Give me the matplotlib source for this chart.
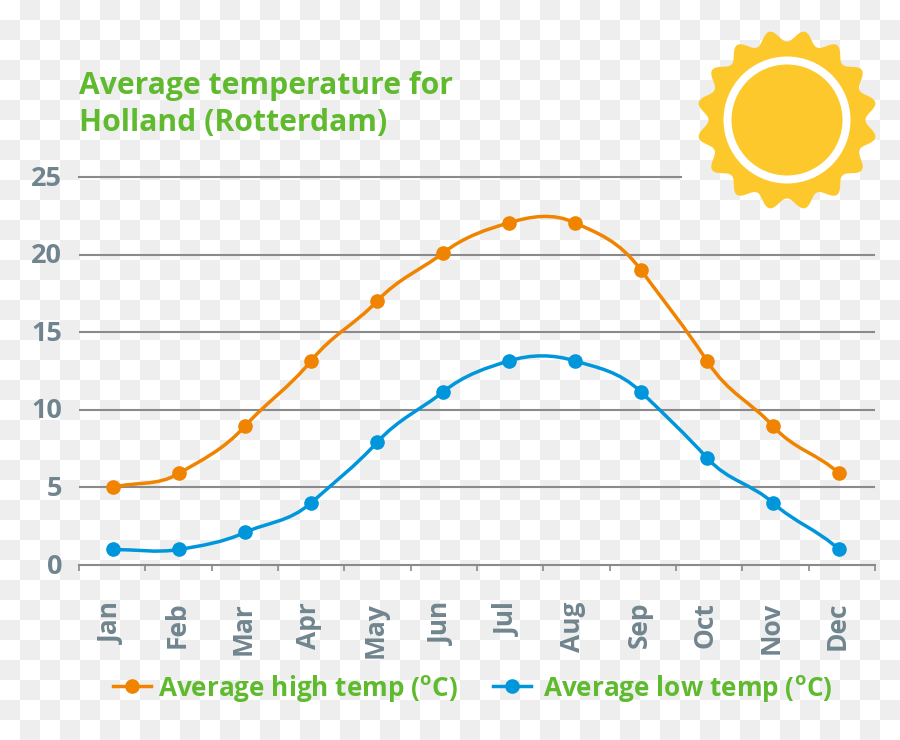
import numpy as np
import matplotlib
matplotlib.use("Agg")
import matplotlib.pyplot as plt
from matplotlib.lines import Line2D
from matplotlib.patches import Circle, PathPatch, Polygon
from matplotlib.path import Path
from matplotlib.transforms import ScaledTranslation, blended_transform_factory

months = ["Jan", "Feb", "Mar", "Apr", "May", "Jun", "Jul", "Aug", "Sep", "Oct", "Nov", "Dec"]
high_temp = [5.0, 5.9, 8.95, 13.15, 17.0, 20.1, 22.05, 22.05, 19.0, 13.15, 8.95, 5.9]
low_temp = [1.0, 1.0, 2.1, 4.0, 7.9, 11.15, 13.15, 13.15, 11.15, 6.9, 4.0, 1.0]
y_ticks = [0, 5, 10, 15, 20, 25]

title = "Average temperature for\nHolland (Rotterdam)"
high_label = "Average high temp ($^{\\mathrm{o}}$C)"
low_label = "Average low temp ($^{\\mathrm{o}}$C)"

GREEN = "#5fba2e"
GREY_TEXT = "#71858f"
GRID = "#8a8a8a"
ORANGE = "#f08400"
BLUE = "#0096dc"
SUN = "#fdc82c"

plt.rcParams["font.family"] = ["Open Sans", "DejaVu Sans"]
plt.rcParams["mathtext.fontset"] = "custom"
plt.rcParams["mathtext.rm"] = "Open Sans:bold"


def smooth_path(xs, ys, strength=1.3):
    # bezier through the points, same idea as a spreadsheet "smoothed line"
    verts = [(xs[0], ys[0])]
    codes = [Path.MOVETO]
    n = len(xs)
    for i in range(n - 1):
        prev_i = max(i - 1, 0)
        next_i = min(i + 2, n - 1)
        m0 = strength * (ys[i + 1] - ys[prev_i]) / (i + 1 - prev_i)
        m1 = strength * (ys[next_i] - ys[i]) / (next_i - i)
        verts.append((xs[i] + 1 / 3, ys[i] + m0 / 3))
        verts.append((xs[i + 1] - 1 / 3, ys[i + 1] - m1 / 3))
        verts.append((xs[i + 1], ys[i + 1]))
        codes += [Path.CURVE4] * 3
    return Path(verts, codes)


fig = plt.figure(figsize=(9, 7.4), dpi=100)

# checkerboard backdrop and the sun, in pixel coordinates
bg = fig.add_axes([0, 0, 1, 1], zorder=0)
bg.set_xlim(0, 900)
bg.set_ylim(740, 0)
bg.axis("off")
rows, cols = np.indices((37, 45))
bg.imshow((rows + cols) % 2, cmap=matplotlib.colors.ListedColormap(["#ffffff", "#eeeeee"]),
          extent=(0, 900, 740, 0), interpolation="nearest", aspect="auto")

theta = np.linspace(0, 2 * np.pi, 720, endpoint=False)
radius = 78.5 + 11.5 * (0.5 - 0.5 * np.cos(16 * theta)) ** 1.1
bg.add_patch(Polygon(np.c_[787 + radius * np.cos(theta), 120 + radius * np.sin(theta)],
                     closed=True, facecolor=SUN, edgecolor="none"))
bg.add_patch(Circle((787, 120), 63.5, facecolor="white", edgecolor="none"))
bg.add_patch(Circle((787, 120), 55.5, facecolor=SUN, edgecolor="none"))

# chart area runs from px 79..875 and 177..565
ax = fig.add_axes([79 / 900, 1 - 565 / 740, (875 - 79) / 900, (565 - 177) / 740], zorder=1)
ax.patch.set_alpha(0)

x = np.arange(len(months))
ax.set_xlim(-34 / 66, 11 + 36 / 66)
ax.set_ylim(0, 25)

for v in y_ticks[1:-1]:
    ax.axhline(v, color=GRID, lw=1.5, zorder=1)
# the top line stops short of the sun
ax.plot([0, (681 - 79) / (875 - 79)], [y_ticks[-1], y_ticks[-1]],
        transform=blended_transform_factory(ax.transAxes, ax.transData),
        color=GRID, lw=1.5, clip_on=False, zorder=1)

ax.add_patch(PathPatch(smooth_path(x, high_temp), fill=False, edgecolor=ORANGE, lw=2.5, zorder=3))
ax.add_patch(PathPatch(smooth_path(x, low_temp), fill=False, edgecolor=BLUE, lw=2.5, zorder=3))
ax.plot(x, high_temp, ls="none", marker="o", ms=9.5, color=ORANGE, zorder=4, clip_on=False)
ax.plot(x, low_temp, ls="none", marker="o", ms=9.5, color=BLUE, zorder=4, clip_on=False)

for side in ["top", "right", "left"]:
    ax.spines[side].set_visible(False)
ax.spines["bottom"].set_color(GRID)
ax.spines["bottom"].set_linewidth(1.5)

ax.set_yticks(y_ticks)
ax.tick_params(axis="y", length=0, pad=12, labelsize=19.5, labelcolor=GREY_TEXT)
ax.set_xticks(x)
ax.set_xticklabels(months, rotation=90, ha="center", va="top")
ax.tick_params(axis="x", which="major", length=0, pad=26.5, labelsize=19, labelcolor=GREY_TEXT)
ax.set_xticks(np.linspace(-34 / 66, 11 + 36 / 66, 13), minor=True)
ax.tick_params(axis="x", which="minor", length=4.5, width=1.2, color=GRID)
x_shift = ScaledTranslation(-2 / 100, 0, fig.dpi_scale_trans)
y_shift = ScaledTranslation(0, 1.5 / 100, fig.dpi_scale_trans)
for lab in ax.get_xticklabels():
    lab.set_transform(lab.get_transform() + x_shift)
    lab.set_fontweight("bold")
for lab in ax.get_yticklabels():
    lab.set_transform(lab.get_transform() + y_shift)
    lab.set_fontweight("bold")

fig.text(79 / 900, 1 - 71 / 740, title, color=GREEN, fontsize=21.7, fontweight="bold",
         ha="left", va="top", linespacing=1.32)

legend_font = {"size": 18.8, "weight": "bold"}
high_handle = Line2D([], [], color=ORANGE, lw=2.5, marker="o", ms=9.5, label=high_label)
low_handle = Line2D([], [], color=BLUE, lw=2.5, marker="o", ms=9.5, label=low_label)
fig.legend(handles=[high_handle], loc="center left", bbox_to_anchor=(113 / 900, 1 - 688 / 740),
           frameon=False, handlelength=1.45, handletextpad=0.27, borderpad=0, borderaxespad=0,
           prop=legend_font, labelcolor=GREEN)
fig.legend(handles=[low_handle], loc="center left", bbox_to_anchor=(493 / 900, 1 - 688 / 740),
           frameon=False, handlelength=1.45, handletextpad=0.47, borderpad=0, borderaxespad=0,
           prop=legend_font, labelcolor=GREEN)

fig.savefig("out.png", dpi=100)
